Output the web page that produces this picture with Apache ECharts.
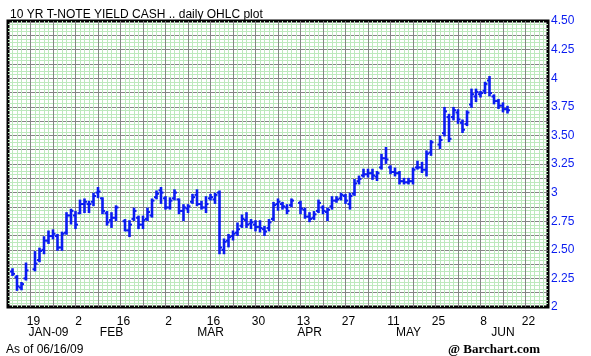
<!DOCTYPE html>
<html>
<head>
<meta charset="utf-8">
<script src="https://cdn.jsdelivr.net/npm/echarts@6/dist/echarts.min.js"></script>
<style>
html,body{margin:0;padding:0;background:#fff;}
#chart{width:591px;height:356px;}
</style>
</head>
<body>
<div id="chart"></div>
<script>
// ---- Axis categories: weekday slots from Mon 12 Jan 2009 to Mon 29 Jun 2009 ----
const startDate = '2009-01-12';
const slotCount = 121;
const holidays = ['2009-01-19', '2009-02-16', '2009-04-10', '2009-05-25'];
const firstBarDate = '2009-01-13';
const lastBarDate = '2009-06-16';

// ---- Tick labels ----
const dayTickLabels = {
  '2009-01-19': '19', '2009-02-02': '2', '2009-02-16': '16', '2009-03-02': '2',
  '2009-03-16': '16', '2009-03-30': '30', '2009-04-13': '13', '2009-04-27': '27',
  '2009-05-11': '11', '2009-05-25': '25', '2009-06-08': '8', '2009-06-22': '22'
};
const monthTickLabels = {
  '2009-01-23': 'JAN-09', '2009-02-12': 'FEB', '2009-03-16': 'MAR',
  '2009-04-15': 'APR', '2009-05-15': 'MAY', '2009-06-15': 'JUN'
};

// ---- OHLC values (one per trading day, firstBarDate..lastBarDate, holidays skipped) ----
const openVals = [2.31,2.26,2.17,2.25,
  2.33,2.41,2.50,2.58,2.62,2.62,2.52,2.65,2.80,2.80,2.82,2.90,2.90,2.92,3.00,2.95,2.82,2.76,2.78,
  2.75,2.67,2.77,2.78,2.72,2.77,2.80,2.96,3.02,2.95,2.87,2.95,2.94,2.84,2.86,2.92,2.98,2.90,2.87,2.95,
  2.94,3.00,2.50,2.58,2.62,2.65,2.71,2.76,2.73,2.72,2.70,2.68,2.69,2.77,2.90,2.90,2.87,2.89,
  2.91,2.85,2.79,2.78,2.84,2.87,2.83,2.88,2.93,2.95,2.97,2.90,2.99,3.10,3.15,3.16,3.17,3.14,3.22,3.30,
  3.22,3.18,3.17,3.10,3.09,3.10,3.22,3.22,3.20,3.35,
  3.42,3.52,3.66,3.66,3.70,3.61,3.60,3.77,3.84,3.86,3.89,3.98,3.84,3.80,3.76,3.73];
const highVals = [2.33,2.27,2.21,2.38,
  2.48,2.51,2.61,2.66,2.67,2.63,2.65,2.82,2.85,2.83,2.93,2.94,2.92,2.99,3.04,2.95,2.83,2.82,2.88,
  2.76,2.75,2.86,2.79,2.79,2.86,2.94,3.01,3.04,2.96,2.95,3.02,2.94,2.89,2.89,2.98,3.02,2.92,2.96,2.98,
  2.99,3.01,2.59,2.63,2.66,2.73,2.80,2.82,2.76,2.75,2.75,2.70,2.76,2.91,2.94,2.91,2.89,2.94,
  2.92,2.86,2.82,2.83,2.93,2.88,2.86,2.96,2.96,2.99,2.98,2.99,3.11,3.14,3.20,3.20,3.20,3.18,3.33,3.39,
  3.23,3.21,3.18,3.12,3.12,3.21,3.27,3.26,3.36,3.45,
  3.49,3.74,3.68,3.74,3.72,3.63,3.71,3.90,3.90,3.88,3.96,4.01,3.85,3.81,3.78,3.75];
const lowVals = [2.28,2.15,2.155,2.24,
  2.32,2.40,2.47,2.56,2.60,2.50,2.50,2.64,2.73,2.69,2.82,2.83,2.83,2.89,2.96,2.82,2.72,2.70,2.76,
  2.67,2.62,2.76,2.69,2.69,2.76,2.79,2.95,2.91,2.86,2.86,2.94,2.82,2.76,2.83,2.91,2.89,2.86,2.83,2.94,
  2.91,2.47,2.47,2.53,2.59,2.63,2.70,2.70,2.69,2.67,2.66,2.63,2.67,2.76,2.85,2.86,2.82,2.88,
  2.82,2.78,2.75,2.77,2.83,2.82,2.76,2.86,2.92,2.94,2.91,2.86,2.98,3.08,3.14,3.14,3.12,3.11,3.21,3.26,
  3.17,3.15,3.08,3.08,3.08,3.08,3.21,3.18,3.15,3.33,
  3.39,3.50,3.45,3.64,3.61,3.53,3.59,3.75,3.80,3.84,3.87,3.85,3.78,3.74,3.71,3.70];
const closeVals = [2.29,2.18,2.20,2.32,
  2.38,2.49,2.58,2.62,2.64,2.52,2.64,2.80,2.84,2.72,2.90,2.92,2.90,2.97,3.01,2.84,2.74,2.78,2.87,
  2.67,2.72,2.84,2.72,2.76,2.83,2.93,2.99,3.00,2.87,2.93,3.00,2.84,2.87,2.88,2.96,2.90,2.87,2.90,2.96,
  2.98,2.52,2.57,2.61,2.64,2.68,2.77,2.72,2.74,2.70,2.69,2.66,2.74,2.89,2.92,2.88,2.84,2.93,
  2.86,2.79,2.77,2.81,2.91,2.84,2.85,2.93,2.94,2.98,2.93,2.97,3.08,3.12,3.16,3.17,3.15,3.17,3.30,3.29,
  3.18,3.17,3.10,3.09,3.10,3.20,3.22,3.20,3.34,3.44,
  3.46,3.71,3.47,3.72,3.64,3.55,3.70,3.86,3.88,3.87,3.95,3.87,3.80,3.76,3.73,3.72];

// ---- build category list and bar dates ----
function fmt(d){ return d.toISOString().slice(0,10); }
const categories = [];
(function(){
  let d = new Date(startDate + 'T00:00:00Z');
  while (categories.length < slotCount) {
    const wd = d.getUTCDay();
    if (wd !== 0 && wd !== 6) categories.push(fmt(d));
    d = new Date(d.getTime() + 86400000);
  }
})();
const barDates = categories.filter(c => c >= firstBarDate && c <= lastBarDate && holidays.indexOf(c) < 0);

const ohlcData = barDates.map((d, k) => [categories.indexOf(d), openVals[k], highVals[k], lowVals[k], closeVals[k]]);

const BAR = '#0a1cf0';
const LABEL_BLUE = '#0a1cf0';
const DARK = '#858585';
const LIGHT = '#bde9bd';
const FONT = 'Liberation Sans, Arial, sans-serif';

const chart = echarts.init(document.getElementById('chart'), null, {renderer: 'canvas'});
chart.setOption({
  animation: false,
  backgroundColor: '#fff',
  title: [
    {text: '10 YR T-NOTE YIELD CASH .. daily OHLC plot', left: 5, top: 4,
     textStyle: {fontFamily: FONT, fontSize: 12, fontWeight: 'normal', color: '#000'}},
    {text: 'As of 06/16/09', left: 1, top: 339,
     textStyle: {fontFamily: FONT, fontSize: 12, fontWeight: 'normal', color: '#000'}},
    {text: '@ Barchart.com', right: 46, top: 338,
     textStyle: {fontFamily: 'Liberation Serif, Times New Roman, serif', fontSize: 13, fontWeight: 'bold', color: '#000'}}
  ],
  grid: {left: 8, right: 43, top: 21, bottom: 49, show: true, borderColor: '#000', borderWidth: 3, backgroundColor: '#fff'},
  xAxis: [
    { // light daily lines
      type: 'category', data: categories, boundaryGap: false, gridIndex: 0, position: 'bottom',
      axisLine: {show: false}, axisTick: {show: false}, axisLabel: {show: false},
      splitLine: {show: true, interval: (i) => i > 0 && i < slotCount - 1, lineStyle: {color: LIGHT, width: 1}}
    },
    { // main axis: weekly dark lines + day labels
      type: 'category', data: categories, boundaryGap: false, gridIndex: 0, position: 'bottom',
      axisLine: {show: false}, axisTick: {show: false},
      splitLine: {show: true, interval: (i) => i % 5 === 0 && i > 0 && i < slotCount - 1, lineStyle: {color: DARK, width: 1}},
      axisLabel: {
        show: true, interval: (i, v) => dayTickLabels[v] !== undefined,
        formatter: (v) => dayTickLabels[v] || '',
        margin: 9, padding: [0, 0, 0, 6],
        fontFamily: FONT, fontSize: 12, color: '#000'
      }
    },
    { // month labels
      type: 'category', data: categories, boundaryGap: false, gridIndex: 0, position: 'bottom',
      axisLine: {show: false}, axisTick: {show: false}, splitLine: {show: false},
      axisLabel: {
        show: true, interval: (i, v) => monthTickLabels[v] !== undefined,
        formatter: (v) => monthTickLabels[v] || '',
        margin: 20, fontFamily: FONT, fontSize: 12, color: '#000'
      }
    }
  ],
  yAxis: {
    type: 'value', position: 'right', min: 2, max: 4.5, interval: 0.125,
    axisLine: {show: false}, axisTick: {show: false},
    splitLine: {show: true, showMinLine: false, showMaxLine: false, lineStyle: {color: DARK, width: 1}},
    minorTick: {show: false, splitNumber: 4},
    minorSplitLine: {show: true, lineStyle: {color: LIGHT, width: 1}},
    axisLabel: {
      margin: 3, fontFamily: FONT, fontSize: 12, color: LABEL_BLUE,
      formatter: function (v) {
        const h = Math.round(v * 100);
        if (h % 25 !== 0) return '';
        return (h % 100 === 0) ? String(h / 100) : (h / 100).toFixed(2);
      }
    }
  },
  series: [{
    type: 'custom',
    xAxisIndex: 1,
    yAxisIndex: 0,
    data: ohlcData,
    encode: {x: 0, y: [1, 2, 3, 4]},
    renderItem: function (params, api) {
      const x = api.value(0);
      const o = api.coord([x, api.value(1)]);
      const h = api.coord([x, api.value(2)]);
      const l = api.coord([x, api.value(3)]);
      const c = api.coord([x, api.value(4)]);
      const tw = 2.5;
      return {
        type: 'group',
        children: [
          {type: 'line', shape: {x1: h[0], y1: h[1] - 1, x2: l[0], y2: l[1] + 1}, style: {stroke: BAR, lineWidth: 2.6}},
          {type: 'line', shape: {x1: o[0] - tw, y1: o[1], x2: o[0], y2: o[1]}, style: {stroke: BAR, lineWidth: 2}},
          {type: 'line', shape: {x1: c[0], y1: c[1], x2: c[0] + tw, y2: c[1]}, style: {stroke: BAR, lineWidth: 2}}
        ]
      };
    }
  }]
});
</script>
</body>
</html>
